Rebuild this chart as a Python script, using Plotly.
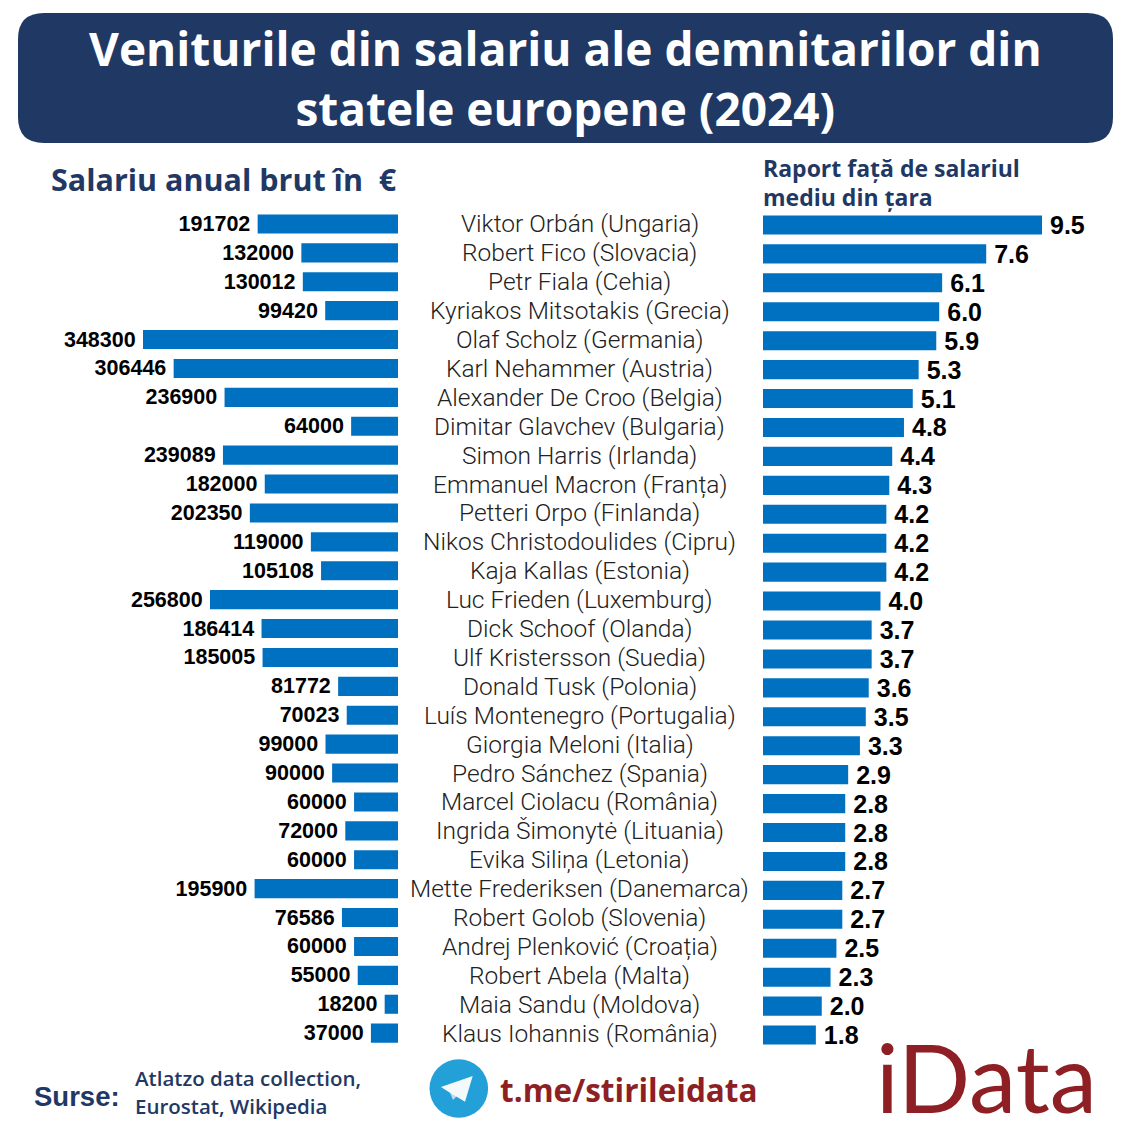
import plotly.graph_objects as go

names = ["Viktor Orbán (Ungaria)","Robert Fico (Slovacia)","Petr Fiala (Cehia)","Kyriakos Mitsotakis (Grecia)","Olaf Scholz (Germania)","Karl Nehammer (Austria)","Alexander De Croo (Belgia)","Dimitar Glavchev (Bulgaria)","Simon Harris (Irlanda)","Emmanuel Macron (Franța)","Petteri Orpo (Finlanda)","Nikos Christodoulides (Cipru)","Kaja Kallas (Estonia)","Luc Frieden (Luxemburg)","Dick Schoof (Olanda)","Ulf Kristersson (Suedia)","Donald Tusk (Polonia)","Luís Montenegro (Portugalia)","Giorgia Meloni (Italia)","Pedro Sánchez (Spania)","Marcel Ciolacu (România)","Ingrida Šimonytė (Lituania)","Evika Siliņa (Letonia)","Mette Frederiksen (Danemarca)","Robert Golob (Slovenia)","Andrej Plenković (Croația)","Robert Abela (Malta)","Maia Sandu (Moldova)","Klaus Iohannis (România)"]
salaries = [191702,132000,130012,99420,348300,306446,236900,64000,239089,182000,202350,119000,105108,256800,186414,185005,81772,70023,99000,90000,60000,72000,60000,195900,76586,60000,55000,18200,37000]
ratios = [9.5,7.6,6.1,6.0,5.9,5.3,5.1,4.8,4.4,4.3,4.2,4.2,4.2,4.0,3.7,3.7,3.6,3.5,3.3,2.9,2.8,2.8,2.8,2.7,2.7,2.5,2.3,2.0,1.8]

W = H = 1134
NAVY = "#1F3864"; BLUE = "#0070C0"; RED = "#8E1F24"
rows = list(range(len(names)))
px = lambda v: v / W
py = lambda v: 1 - v / H

fig = go.Figure()
fig.add_trace(go.Bar(x=salaries, y=rows, orientation="h", xaxis="x", yaxis="y",
    marker=dict(color=BLUE, line_width=0), text=[f"{s}\u2009" for s in salaries], textposition="outside", constraintext="none",
    textfont=dict(family="Liberation Sans", size=21.5, color="#000", weight=700), cliponaxis=False, hoverinfo="skip"))
fig.add_trace(go.Bar(x=ratios, y=rows, orientation="h", xaxis="x2", yaxis="y2",
    marker=dict(color=BLUE, line_width=0), text=[f"\u2009{r:.1f}" for r in ratios], textposition="outside", constraintext="none",
    textfont=dict(family="Liberation Sans", size=25, color="#000", weight=700), cliponaxis=False, hoverinfo="skip"))

ann = []
for i, n in enumerate(names):
    ann.append(dict(x=px(579.5), y=i, xref="paper", yref="y", text=n, showarrow=False, borderpad=0,
                    font=dict(family="Roboto", size=24.5, color="#222", weight=300)))
def label(x, y, text, size, color, anchor="left", family="Open Sans", weight=700):
    ann.append(dict(x=px(x), y=py(y), xref="paper", yref="paper", text=text, showarrow=False, xanchor=anchor,
                    yanchor="middle", font=dict(family=family, size=size, color=color, weight=weight)))
label(565, 78, "Veniturile din salariu ale demnitarilor din<br>statele europene (2024)", 46, "white", "center")
label(49, 179, "Salariu anual brut în  €", 30.5, NAVY)
label(761, 168, "Raport față de salariul", 23, NAVY)
label(761, 197, "mediu din țara", 23, NAVY)
label(32, 1096, "Surse:", 27.5, NAVY, family="Liberation Sans")
label(133, 1078, "Atlatzo data collection,", 20.5, NAVY, weight=600)
label(133, 1106, "Eurostat, Wikipedia", 20.5, NAVY, weight=600)
label(498, 1089, "t.me/stirileidata", 31.5, RED)
label(874, 1076, "iData", 95, RED, family="Lato", weight=400)

def rr(x0, y0, x1, y1, r):
    X = lambda v: px(v); Y = lambda v: py(v)
    return (f"M {X(x0+r)} {Y(y0)} L {X(x1-r)} {Y(y0)} Q {X(x1)} {Y(y0)} {X(x1)} {Y(y0+r)} "
            f"L {X(x1)} {Y(y1-r)} Q {X(x1)} {Y(y1)} {X(x1-r)} {Y(y1)} L {X(x0+r)} {Y(y1)} "
            f"Q {X(x0)} {Y(y1)} {X(x0)} {Y(y1-r)} L {X(x0)} {Y(y0+r)} Q {X(x0)} {Y(y0)} {X(x0+r)} {Y(y0)} Z")
def poly(pts):
    return "M " + " L ".join(f"{px(a)} {py(b)}" for a, b in pts) + " Z"
shapes = [
    dict(type="path", xref="paper", yref="paper", path=rr(18, 13, 1113, 143, 26), fillcolor=NAVY, line_width=0, layer="below"),
    dict(type="circle", xref="paper", yref="paper", x0=px(429.5), x1=px(488.1), y0=py(1117.8), y1=py(1059.2), fillcolor="#24A0D8", line_width=0),
    dict(type="path", xref="paper", yref="paper", path=poly([(450, 1092.7), (453, 1100), (458, 1095)]), fillcolor="#C4DAEA", line_width=0),
    dict(type="path", xref="paper", yref="paper", path=poly([(472.7, 1076), (441, 1087), (450, 1092.7), (465, 1101.7)]), fillcolor="#F4F9FC", line_width=0),
]

fig.update_layout(
    width=W, height=H, margin=dict(l=0, r=0, t=0, b=0), paper_bgcolor="white", plot_bgcolor="rgba(0,0,0,0)",
    showlegend=False, bargap=0.34, annotations=ann, shapes=shapes,
    xaxis=dict(domain=[px(60), px(398)], range=[(398 - 60) * 348300 / 255, 0], visible=False, fixedrange=True),
    yaxis=dict(domain=[py(1047.6), py(209.5)], range=[28.5, -0.5], visible=False, anchor="x"),
    xaxis2=dict(domain=[px(763), 1], range=[0, (W - 763) * 9.5 / 279], visible=False, anchor="y2"),
    yaxis2=dict(domain=[py(1049.5), py(210.5)], range=[28.5, -0.5], visible=False, anchor="x2"),
)
fig.write_html("out.html", config=dict(displayModeBar=False),
               post_script="document.body.style.margin='0';document.documentElement.style.overflow='hidden';")
